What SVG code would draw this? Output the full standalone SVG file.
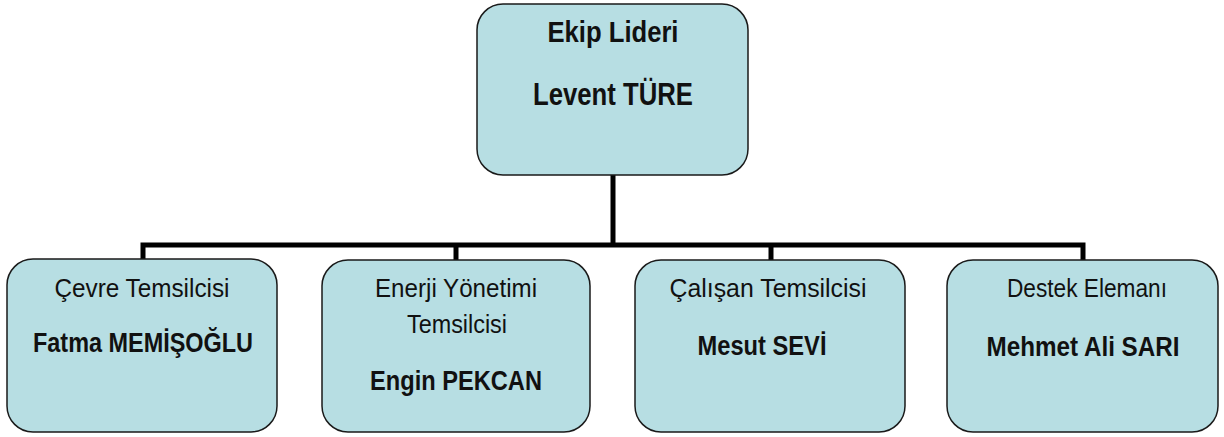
<svg xmlns="http://www.w3.org/2000/svg" width="1224" height="437" viewBox="0 0 1224 437">
<style>
.box{fill:#B7DEE3;stroke:#1a1a1a;stroke-width:1.5}
.t{font-family:"Liberation Sans",Arial,sans-serif;text-anchor:middle;fill:#111}
.r{font-size:26px}
.b{font-size:27px;font-weight:bold}
.tb{font-size:29px;font-weight:bold}
.tb2{font-size:31px;font-weight:bold}
.c{stroke:#000;stroke-width:5;fill:none}
</style>
<rect width="1224" height="437" fill="#fff"/>
<g id="connectors">
<path class="c" d="M613,175 V245"/>
<path class="c" d="M143,261 V245 H1083 V261"/>
<path class="c" d="M456,245 V261"/>
<path class="c" d="M771,245 V261"/>
</g>
<g id="leader">
<rect class="box" x="477" y="4" width="271" height="171" rx="26"/>
<text class="t tb" x="613" y="42" textLength="131" lengthAdjust="spacingAndGlyphs">Ekip Lideri</text>
<text class="t tb2" x="613" y="105" textLength="160" lengthAdjust="spacingAndGlyphs">Levent TÜRE</text>
</g>
<g id="cevre">
<rect class="box" x="7" y="259" width="270" height="173" rx="26"/>
<text class="t r" x="142" y="297" textLength="175" lengthAdjust="spacingAndGlyphs">Çevre Temsilcisi</text>
<text class="t b" x="143" y="352" textLength="220" lengthAdjust="spacingAndGlyphs">Fatma MEMİŞOĞLU</text>
</g>
<g id="enerji">
<rect class="box" x="322" y="260" width="268" height="172" rx="26"/>
<text class="t r" x="456" y="297" textLength="162" lengthAdjust="spacingAndGlyphs">Enerji Yönetimi</text>
<text class="t r" x="457" y="333" textLength="100" lengthAdjust="spacingAndGlyphs">Temsilcisi</text>
<text class="t b" x="456" y="390" textLength="172" lengthAdjust="spacingAndGlyphs">Engin PEKCAN</text>
</g>
<g id="calisan">
<rect class="box" x="635" y="260" width="270" height="172" rx="26"/>
<text class="t r" x="768" y="297" textLength="197" lengthAdjust="spacingAndGlyphs">Çalışan Temsilcisi</text>
<text class="t b" x="762" y="355" textLength="129" lengthAdjust="spacingAndGlyphs">Mesut SEVİ</text>
</g>
<g id="destek">
<rect class="box" x="947" y="260" width="271" height="172" rx="26"/>
<text class="t r" x="1087" y="297" textLength="160" lengthAdjust="spacingAndGlyphs">Destek Elemanı</text>
<text class="t b" x="1083" y="356" textLength="193" lengthAdjust="spacingAndGlyphs">Mehmet Ali SARI</text>
</g>
</svg>
